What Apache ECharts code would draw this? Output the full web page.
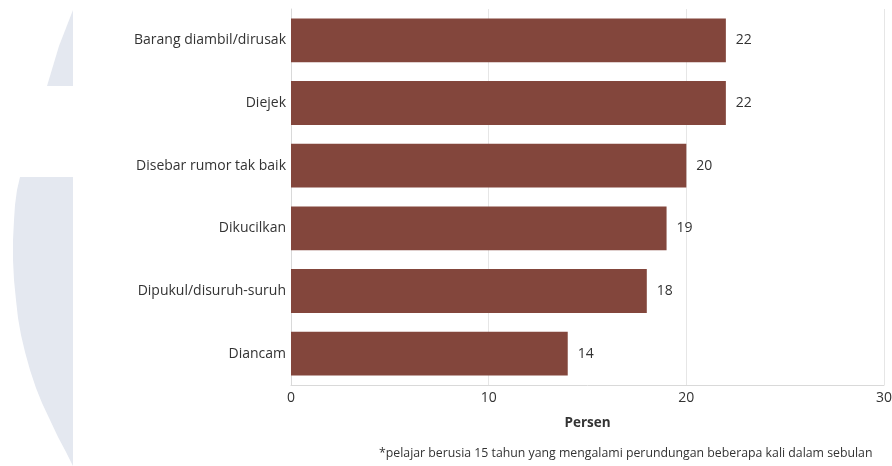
<!DOCTYPE html>
<html><head><meta charset="utf-8">
<script src="https://cdn.jsdelivr.net/npm/echarts@6/dist/echarts.min.js"></script>
<style>html,body{margin:0;padding:0;background:#fff}#c{width:892px;height:466px}</style>
</head><body><div id="c"></div>
<script>
const categories = ["Barang diambil/dirusak","Diejek","Disebar rumor tak baik","Dikucilkan","Dipukul/disuruh-suruh","Diancam"];
const values = [22,22,20,19,18,14];
const xTicks = [0,10,20,30];
const axisName = "Persen";
const footnote = "*pelajar berusia 15 tahun yang mengalami perundungan beberapa kali dalam sebulan";

const FONT = "'Open Sans', 'Noto Sans', sans-serif";
const SHADE = '#e4e8f0';
const chart = echarts.init(document.getElementById('c'), null, {renderer:'canvas'});
chart.setOption({
  animation:false,
  backgroundColor:'#fff',
  textStyle:{fontFamily:FONT},
  graphic:[
    {type:'polygon', silent:true, z:-10, shape:{points:[[73,10],[66,28],[59,46],[53,66],[47,86],[73,86]]}, style:{fill:SHADE}},
    {type:'polygon', silent:true, z:-10, shape:{points:[[73,177],[20,177],[17,190],[15,205],[14,220],[13,240],[13,260],[14,280],[16,300],[18,318],[21,335],[25,352],[30,370],[36,388],[42,403],[50,420],[58,437],[66,452],[72,464],[73,466]]}, style:{fill:SHADE}},
    {type:'text', left:379, top:447, style:{text:footnote, fontSize:12.3, fill:'#333', fontFamily:FONT}}
  ],
  grid:{left:291, right:8, top:9, bottom:81, containLabel:false, outerBoundsMode:'none'},
  xAxis:{type:'value', min:0, max:30, interval:10,
    name:axisName, nameLocation:'middle', nameGap:31,
    nameTextStyle:{fontWeight:'bold', fontSize:13.5, color:'#333', fontFamily:FONT},
    axisLine:{show:true, lineStyle:{color:'#d9d9d9'}},
    axisTick:{show:false},
    axisLabel:{fontSize:14, color:'#333', margin:6, formatter:v=>xTicks.includes(v)?String(v):''},
    splitLine:{show:true, lineStyle:{color:'#e6e6e6'}}
  },
  yAxis:{type:'category', data:categories, inverse:true,
    axisLine:{show:true, lineStyle:{color:'#d9d9d9'}},
    axisTick:{show:false},
    axisLabel:{fontSize:14, color:'#333', margin:5}
  },
  series:[{type:'bar', data:values, barWidth:'70%',
    itemStyle:{color:'#83463c'},
    label:{show:true, position:'right', distance:10, fontSize:14, color:'#333'}
  }]
});
</script></body></html>
